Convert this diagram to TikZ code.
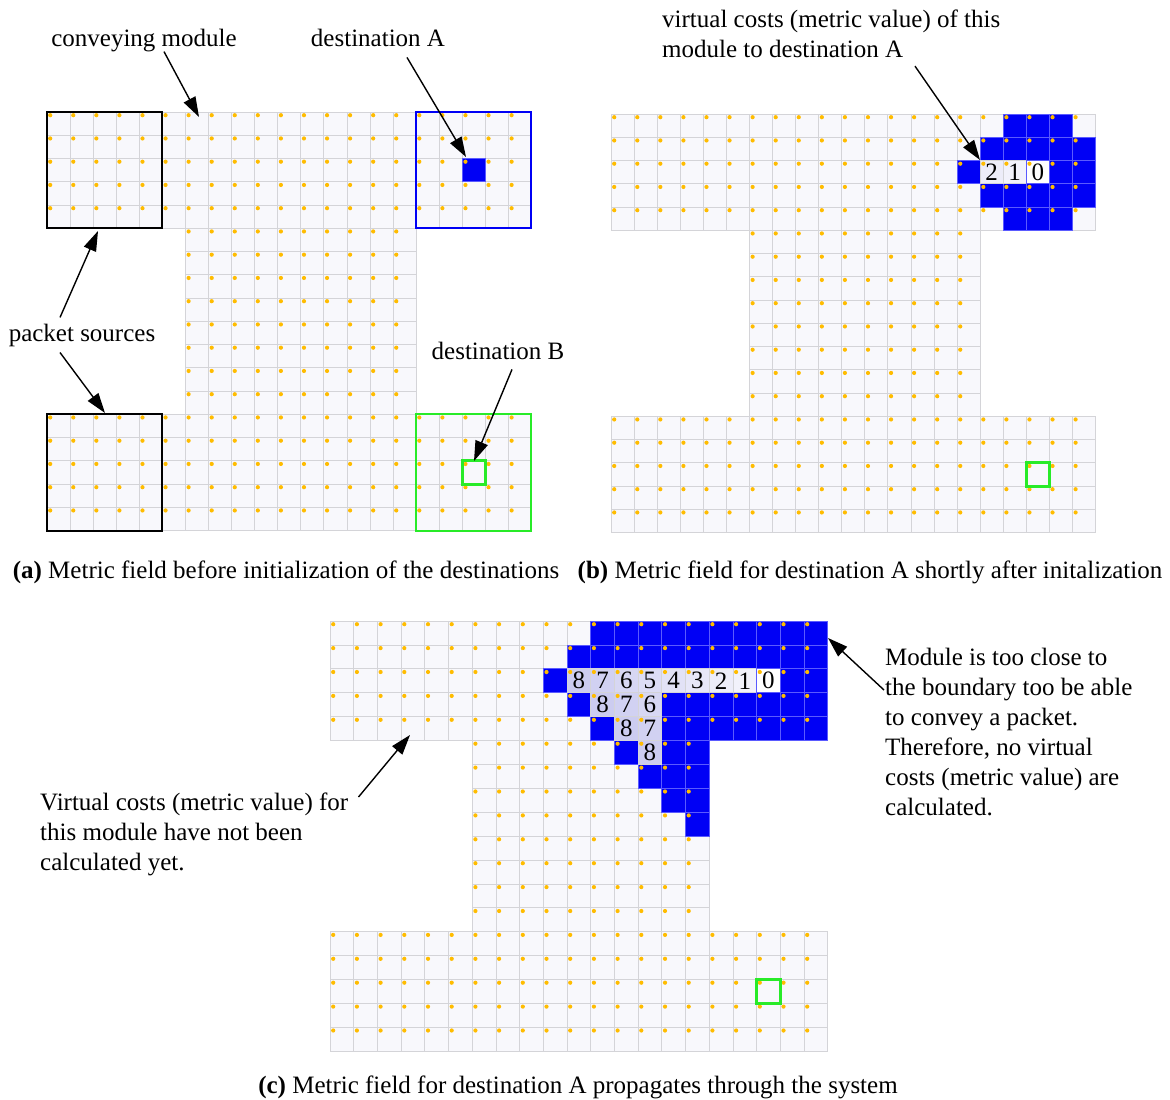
\documentclass[tikz,border=0pt]{standalone}
\usepackage{fontspec}
\setmainfont{Liberation Serif}
\usetikzlibrary{arrows.meta}
\definecolor{cellbg}{RGB}{248,248,252}
\definecolor{gridline}{RGB}{212,212,216}
\definecolor{dotorange}{RGB}{255,188,0}
\definecolor{costblue}{RGB}{0,0,245}
\definecolor{costedge}{RGB}{90,90,255}
\definecolor{lav}{RGB}{110,110,215}
\definecolor{targetgreen}{RGB}{40,235,40}
\newcommand{\txt}{\fontsize{25}{30}\selectfont}
\newcommand{\fieldcells}{%
  \foreach \r in {0,1,2,3,4,13,14,15,16,17}
    \foreach \c in {0,...,20}
      \draw[cellbox] (\c,\r) rectangle ++(1,1);
  \foreach \r in {5,...,12}
    \foreach \c in {6,...,15}
      \draw[cellbox] (\c,\r) rectangle ++(1,1);
}
\newcommand{\fielddots}{%
  \foreach \r in {0,1,2,3,4,13,14,15,16,17}
    \foreach \c in {0,...,20}
      \fill[sensordot] ([shift={(3.2pt,-3.2pt)}]\c,\r) circle (2.1pt);
  \foreach \r in {5,...,12}
    \foreach \c in {6,...,15}
      \fill[sensordot] ([shift={(3.2pt,-3.2pt)}]\c,\r) circle (2.1pt);
}
\tikzset{
  cellbox/.style={draw=gridline, fill=cellbg, line width=0.8pt},
  costcell/.style={draw=costedge, fill=costblue, line width=0.8pt},
  costnum/.style={draw=gridline, line width=0.8pt},
  zerocell/.style={draw=costedge, fill=white, line width=1pt},
  sensordot/.style={fill=dotorange},
  numtag/.style={font=\txt, inner sep=0pt},
  labeltext/.style={font=\txt, inner sep=0pt},
  remark/.style={font=\txt, align=left, inner sep=0pt},
  pointer/.style={-{Triangle[length=20pt,width=13pt]}, line width=1.4pt},
  srcbox/.style={draw=black, line width=2pt},
  destabox/.style={draw=costblue, line width=2pt},
  destbbox/.style={draw=targetgreen, line width=2pt},
  destbcell/.style={draw=targetgreen, line width=3pt},
}
\begin{document}
\begin{tikzpicture}[x=1pt,y=-1pt]
\useasboundingbox (0,0) rectangle (1170,1100);

% (a) layout
\begin{scope}[shift={(47,112)},x=23.07pt,y=-23.25pt]
  \fieldcells
  \filldraw[costcell] (18,2) rectangle ++(1,1);
  \fielddots
  \draw[srcbox] (0,0) rectangle (5,5);
  \draw[srcbox] (0,13) rectangle (5,18);
  \draw[destabox] (16,0) rectangle (21,5);
  \draw[destbbox] (16,13) rectangle (21,18);
  \draw[destbcell] (18,15) rectangle ++(1,1);
\end{scope}
\node[labeltext, anchor=base] (conv) at (144,46) {conveying module};
\node[labeltext, anchor=base] (desta) at (378,46) {destination A};
\node[labeltext, anchor=base] (src) at (82,341) {packet sources};
\node[labeltext, anchor=base] (destb) at (498,359) {destination B};
\coordinate (convtip) at (199,117);
\coordinate (destatip) at (466,157);
\coordinate (srctopa) at (98,231);
\coordinate (srctopb) at (105,413);
\coordinate (destbtip) at (474,461);
\draw[pointer] ([xshift=20pt]conv.south) -- (convtip);
\draw[pointer] ([shift={(29pt,-11pt)}]desta.south) -- (destatip);
\draw[pointer] ([shift={(-22pt,6pt)}]src.north) -- (srctopa);
\draw[pointer] ([shift={(-22pt,-6pt)}]src.south) -- (srctopb);
\draw[pointer] ([shift={(14pt,-10pt)}]destb.south) -- (destbtip);
\node[labeltext, anchor=base] (capa) at (286,578) {\textbf{(a)} Metric field before initialization of the destinations};

% (b) layout
\begin{scope}[shift={(611,114)},x=23.07pt,y=-23.25pt]
  \fieldcells
  \foreach \r/\a/\b in {0/17/19,1/16/20,2/15/15,2/19/20,3/16/20,4/17/19}
    \foreach \c in {\a,...,\b}
      \filldraw[costcell] (\c,\r) rectangle ++(1,1);
  \foreach \c/\v in {16/2,17/1}{
    \pgfmathtruncatemacro{\s}{4*\v}
    \filldraw[costnum, fill=lav!\s!cellbg] (\c,2) rectangle ++(1,1);
  }
  \filldraw[zerocell] (18,2) rectangle ++(1,1);
  \fielddots
  \foreach \c/\v in {16/2,17/1,18/0}
    \node[numtag] (b-\c) at (\c+0.5,2.5) {\v};
  \draw[destbcell] (18,15) rectangle ++(1,1);
\end{scope}
\node[remark, anchor=north west] (vcost) at (662,9.9) {virtual costs (metric value) of this\\module to destination A};
\coordinate (vcosttip) at (980,160);
\draw[pointer] ([shift={(253pt,-8pt)}]vcost.south west) -- (vcosttip);
\node[labeltext, anchor=base] (capb) at (870,578) {\textbf{(b)} Metric field for destination A shortly after initalization};

% (c) layout
\begin{scope}[shift={(330,621)},x=23.7pt,y=-23.9pt]
  \fieldcells
  \foreach \r/\a/\b in {0/11/20,1/10/20,2/9/9,2/19/20,3/10/10,3/14/20,4/11/11,4/14/20,
                        5/12/12,5/14/15,6/13/15,7/14/15,8/15/15}
    \foreach \c in {\a,...,\b}
      \filldraw[costcell] (\c,\r) rectangle ++(1,1);
  \foreach \c/\r/\v in {10/2/8,11/2/7,12/2/6,13/2/5,14/2/4,15/2/3,16/2/2,17/2/1,
                        11/3/8,12/3/7,13/3/6,12/4/8,13/4/7,13/5/8}{
    \pgfmathtruncatemacro{\s}{4*\v}
    \filldraw[costnum, fill=lav!\s!cellbg] (\c,\r) rectangle ++(1,1);
  }
  \filldraw[zerocell] (18,2) rectangle ++(1,1);
  \fielddots
  \foreach \c/\r/\v in {10/2/8,11/2/7,12/2/6,13/2/5,14/2/4,15/2/3,16/2/2,17/2/1,18/2/0,
                        11/3/8,12/3/7,13/3/6,12/4/8,13/4/7,13/5/8}
    \node[numtag] (c-\c-\r) at (\c+0.5,\r+0.5) {\v};
  \draw[destbcell] (18,15) rectangle ++(1,1);
\end{scope}
\node[remark, anchor=north west] (boundary) at (885,648) {Module is too close to\\the boundary too be able\\to convey a packet.\\Therefore, no virtual\\costs (metric value) are\\calculated.};
\node[remark, anchor=north west] (pending) at (40,793) {Virtual costs (metric value) for\\this module have not been\\calculated yet.};
\coordinate (boundtip) at (828,638);
\coordinate (pendtip) at (410,735);
\draw[pointer] ([shift={(-1pt,-42pt)}]boundary.north west) -- (boundtip);
\draw[pointer] ([shift={(10pt,-4pt)}]pending.north east) -- (pendtip);
\node[labeltext, anchor=base] (capc) at (578,1093) {\textbf{(c)} Metric field for destination A propagates through the system};
\end{tikzpicture}
\end{document}
